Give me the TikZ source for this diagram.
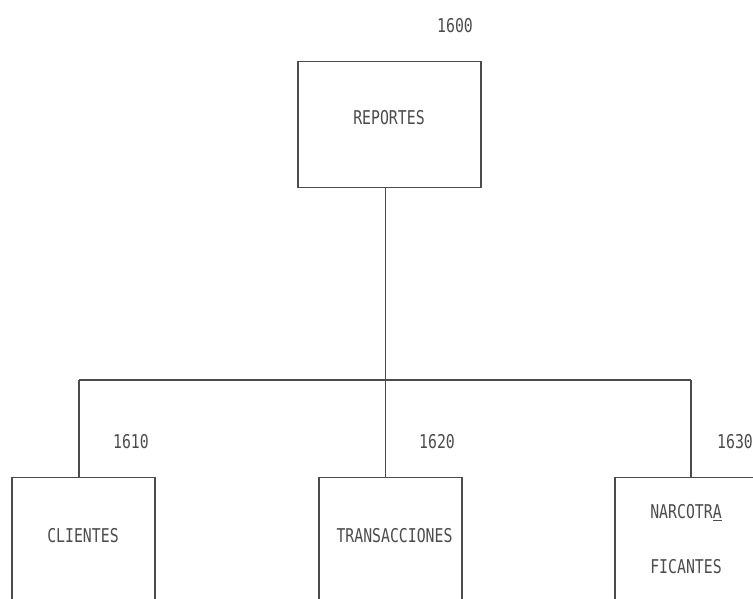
\documentclass[tikz,border=0pt]{standalone}
\usepackage{fontspec}
\newfontfamily\dotfont[FakeStretch=0.78]{DejaVu Sans Mono}
\tikzset{
  modulo/.style={draw, minimum width=143pt, minimum height=150pt, anchor=north, inner sep=0pt},
  rotulo/.style={font=\dotfont\fontsize{19}{23}\selectfont, text=black!70, inner sep=0pt},
}
\begin{document}
\begin{tikzpicture}[x=1pt, y=-1pt, draw=black!70, line width=1.2pt]
            \clip (0,0) rectangle (753,598);
            \fill[white] (0,0) rectangle (753,598);
            % modulo principal
            \node[modulo, minimum width=183pt, minimum height=126pt] (reportes) at (389.5,61) {};
            \node[rotulo] (t-reportes) at (389,118) {REPORTES};
            \node[rotulo] (n-reportes) at (455,26) {1600};
            % submodulos
            \node[modulo] (clientes) at (83.5,477) {};
            \node[modulo] (transacciones) at (390.5,477) {};
            \node[modulo] (narcotra) at (686.5,477) {};
            \node[rotulo] (t-clientes) at (83,536) {CLIENTES};
            \node[rotulo] (t-transacciones) at (394.5,536) {TRANSACCIONES};
            \node[rotulo, align=center, font=\dotfont\fontsize{19}{55}\selectfont] (t-narcotra) at (686,539.5) {NARCOTR\underline{A}\\FICANTES};
            \foreach \n/\x/\num in {clientes/131/1610, transacciones/437/1620, narcotra/735/1630} \node[rotulo] (n-\n) at (\x,442) {\num};
            % conectores
            \coordinate (c-clientes) at (79,380);
            \coordinate (c-transacciones) at (385.5,380);
            \coordinate (c-narcotra) at (691,380);
            \draw (reportes.south -| c-transacciones) -- (c-transacciones);
            \draw (c-clientes) -- (c-narcotra);
            \foreach \n in {clientes,transacciones,narcotra} \draw (c-\n) -- (c-\n |- \n.north);
\end{tikzpicture}
\end{document}
